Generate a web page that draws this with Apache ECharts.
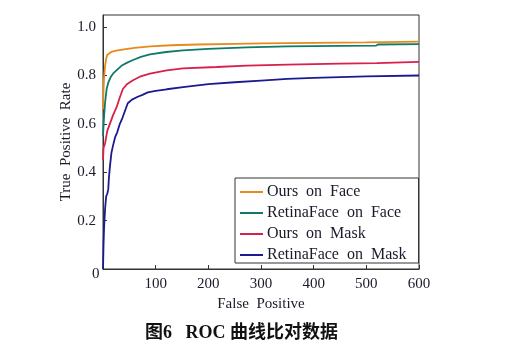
<!DOCTYPE html>
<html>
<head>
<meta charset="utf-8">
<script src="https://cdn.jsdelivr.net/npm/echarts@6/dist/echarts.min.js"></script>
<style>
  html, body { margin: 0; padding: 0; background: #fff; }
  #chart { width: 510px; height: 352px; }
</style>
</head>
<body>
<div id="chart"></div>
<script>
// ROC curves, [false positive, true positive rate]
var seriesNames = ['Ours  on  Face', 'RetinaFace  on  Face', 'Ours  on  Mask', 'RetinaFace  on  Mask'];
var seriesColors = ['#e8891c', '#0f7a6a', '#d8204a', '#1b1a8e'];

var oursFace = [
    [0, 0.66], [1, 0.74], [2, 0.79], [4, 0.84], [6, 0.87], [8, 0.885], [11, 0.893],
    [16, 0.898], [25, 0.903], [40, 0.908], [60, 0.914], [90, 0.92], [130, 0.925],
    [180, 0.928], [250, 0.931], [300, 0.933], [400, 0.935], [500, 0.937], [600, 0.94]
];
var retinaFace = [
    [0, 0.55], [2, 0.63], [4, 0.69], [7, 0.745], [10, 0.77], [15, 0.795], [20, 0.81],
    [26, 0.822], [35, 0.84], [45, 0.852], [57, 0.864], [72, 0.877], [89, 0.887],
    [120, 0.897], [152, 0.904], [200, 0.91], [273, 0.916], [350, 0.92], [450, 0.922],
    [518, 0.923], [522, 0.928], [600, 0.93]
];
var oursMask = [
    [0, 0.45], [1, 0.5], [4, 0.52], [8, 0.57], [13, 0.6], [19, 0.635], [26, 0.67],
    [32, 0.71], [38, 0.745], [46, 0.765], [57, 0.78], [70, 0.795], [89, 0.808],
    [121, 0.821], [152, 0.829], [216, 0.835], [273, 0.841], [350, 0.845], [450, 0.849],
    [520, 0.851], [600, 0.856]
];
var retinaMask = [
    [0, 0], [1, 0.1], [2, 0.17], [4, 0.25], [6, 0.3], [8, 0.31], [10, 0.33], [11, 0.37],
    [13, 0.42], [16, 0.48], [19, 0.51], [23, 0.545], [27, 0.565], [32, 0.6], [37, 0.625],
    [42, 0.655], [47, 0.685], [55, 0.7], [66, 0.712], [75, 0.72], [85, 0.73], [100, 0.736],
    [121, 0.743], [152, 0.752], [200, 0.764], [250, 0.772], [300, 0.779], [350, 0.786],
    [400, 0.79], [450, 0.793], [500, 0.796], [600, 0.8]
];
var allData = [oursFace, retinaFace, oursMask, retinaMask];

var serif = '"Liberation Serif", "DejaVu Serif", serif';
var textColor = '#1a1a2a';

var chart = echarts.init(document.getElementById('chart'));

var series = [];
for (var i = 0; i < allData.length; i++) {
    series.push({
        name: seriesNames[i],
        type: 'line',
        data: allData[i],
        showSymbol: false,
        symbol: 'none',
        lineStyle: { color: seriesColors[i], width: 1.8 },
        itemStyle: { color: seriesColors[i] },
        z: 4 - i
    });
}

var option = {
    animation: false,
    backgroundColor: '#fff',
    grid: {
        left: 103, right: 91, top: 15, bottom: 83,
        show: true, borderColor: '#333', borderWidth: 1, backgroundColor: 'transparent'
    },
    xAxis: {
        type: 'value',
        min: 0, max: 600, interval: 100,
        name: 'False  Positive',
        nameLocation: 'middle',
        nameGap: 28,
        nameMoveOverlap: false,
        nameTextStyle: { fontFamily: serif, fontSize: 15, color: textColor },
        axisLine: { lineStyle: { color: '#333' } },
        axisTick: { inside: true, length: 4, lineStyle: { color: '#333' } },
        axisLabel: {
            showMinLabel: false, margin: 8,
            fontFamily: serif, fontSize: 15, color: textColor
        },
        splitLine: { show: false }
    },
    yAxis: {
        type: 'value',
        min: 0, max: 1.05, interval: 0.2,
        name: 'True  Positive  Rate',
        nameLocation: 'middle',
        nameGap: 29,
        nameMoveOverlap: false,
        nameTextStyle: { fontFamily: serif, fontSize: 15, color: textColor },
        axisLine: { lineStyle: { color: '#333' } },
        axisTick: { inside: true, length: 4, lineStyle: { color: '#333' } },
        axisLabel: {
            margin: 7,
            fontFamily: serif, fontSize: 15, color: textColor,
            formatter: function(v) {
                if (v === 0) return '';
                return v.toFixed(1);
            }
        },
        splitLine: { show: false }
    },
    legend: {
        data: seriesNames,
        orient: 'vertical',
        left: 235, top: 178,
        padding: [6, 12, 0, 5],
        icon: 'rect',
        itemWidth: 23, itemHeight: 2,
        itemGap: 5,
        borderColor: '#333', borderWidth: 1,
        backgroundColor: '#fff',
        textStyle: { fontFamily: serif, fontSize: 16, color: textColor, padding: [0, 0, 0, -1] }
    },
    graphic: [{
        type: 'text',
        left: 92, top: 267,
        style: { text: '0', font: '15px ' + serif, fill: textColor }
    }, {
        type: 'text',
        left: 145, top: 324,
        style: {
            text: '图6   ROC 曲线比对数据',
            font: 'bold 18px "Liberation Serif", "Noto Sans CJK SC", serif',
            fill: '#111'
        }
    }],
    series: series
};

chart.setOption(option);
</script>
</body>
</html>
